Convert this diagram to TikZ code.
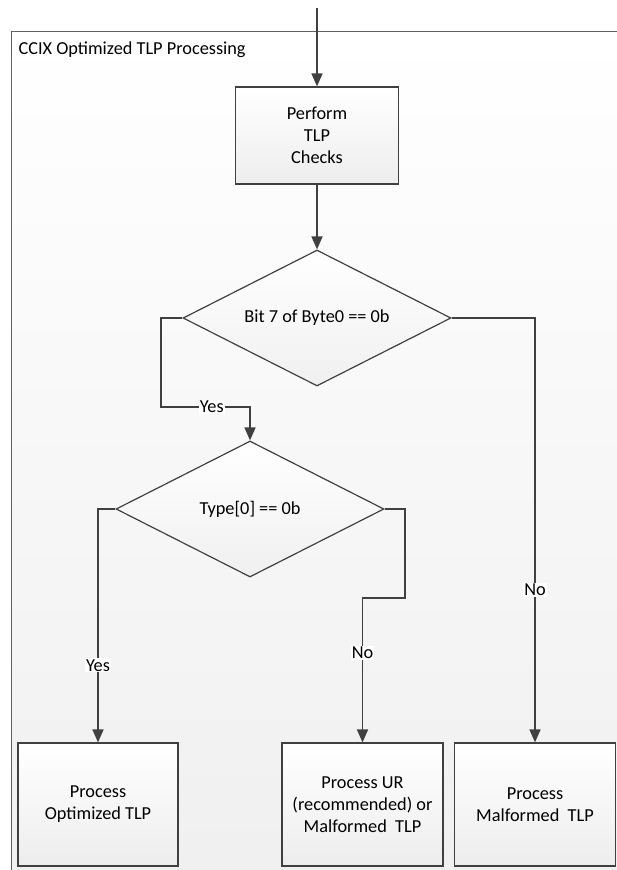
\documentclass[tikz,border=0pt]{standalone}
\usepackage{fontspec}
\setmainfont{Carlito}
\usetikzlibrary{shapes.geometric,arrows.meta}

\definecolor{linegray}{HTML}{404040}
\definecolor{framegray}{HTML}{606060}

\tikzset{
  procbox/.style={draw=linegray, line width=1.2pt, top color=white, bottom color=gray!14,
    align=center, inner sep=0pt},
  decision/.style={diamond, draw=linegray, line width=1.2pt, top color=white, bottom color=gray!12,
    minimum width=268pt, minimum height=136pt, inner sep=0pt, aspect=1.97},
  arr/.style={draw=linegray, line width=1.7pt, -{Triangle[length=13pt,width=11pt]}},
  lbl/.style={fill=white, inner sep=1pt, text=black}
}

\begin{document}
\begin{tikzpicture}[x=1pt, y=-1pt, font=\fontsize{18.3}{22}\selectfont]
  \useasboundingbox (0,0) rectangle (616,870);

  % 外框与标题
  \shade[top color=white, bottom color=gray!12] (11,31) rectangle (620,874);
  \draw[framegray, line width=1pt] (11,874) -- (11,31) -- (620,31);
  \node[anchor=base west] (title) at (15,54) {CCIX Optimized TLP Processing};

  % 各处理框
  \coordinate (entry) at (317,8);
  \node[procbox, minimum width=163pt, minimum height=97pt] (perform) at (317,135.5)
    {Perform\\TLP\\Checks};
  \node[decision] (bitchk) at (317,318) {Bit 7 of Byte0 == 0b};
  \node[decision] (typechk) at (250,509) {Type[0] == 0b};
  \node[procbox, minimum width=160pt, minimum height=123pt] (optlp) at (98,804.5)
    {Process\\Optimized TLP};
  \node[procbox, minimum width=161pt, minimum height=123pt] (urtlp) at (362.5,804.5)
    {Process UR\\(recommended) or\\Malformed~~TLP};
  \node[procbox, minimum width=161pt, minimum height=123pt] (maltlp) at (535,804.5)
    {Process\\Malformed~~TLP};

  % 连线
  \draw[arr] (entry) -- (perform.north);
  \draw[arr] (perform.south) -- (bitchk.north);
  \draw[arr] (bitchk.west) -| (161,407) -- node[lbl, pos=0.57] {Yes} (250,407) -- (typechk.north);
  \draw[arr] (bitchk.east) -| node[lbl, pos=0.82] {No} (maltlp.north);
  \draw[arr] (typechk.west) -| node[lbl, pos=0.835] {Yes} (optlp.north);
  \draw[arr] (typechk.east) -| (405,598) -| node[lbl, pos=0.69] {No} (urtlp.north);
\end{tikzpicture}
\end{document}
